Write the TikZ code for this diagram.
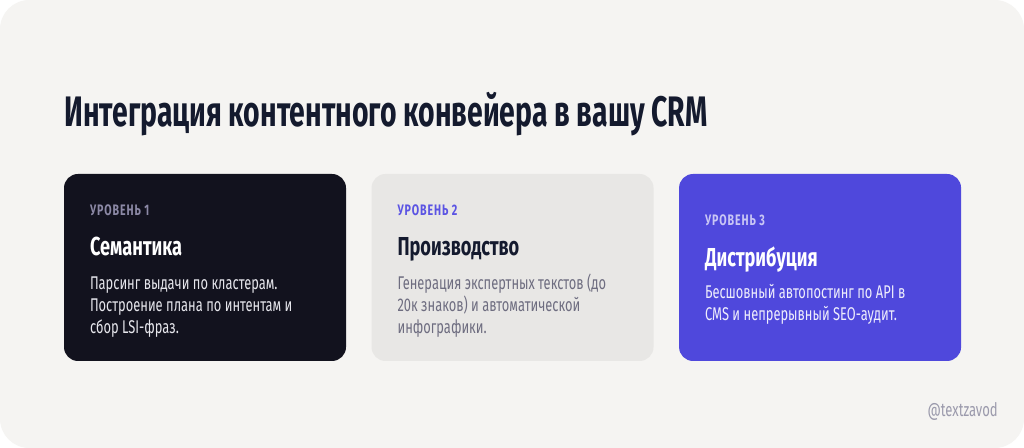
\documentclass[tikz,border=0pt]{standalone}
\usepackage{fontspec}
\setmainfont{Fira Sans}[FakeStretch=0.7]
\newfontfamily\levelfont{Fira Sans}[FakeStretch=0.7, LetterSpace=6]
\newfontfamily\titlefont{Fira Sans}[FakeStretch=0.665]
\usetikzlibrary{positioning}

\definecolor{bgpaper}{HTML}{F5F4F2}
\definecolor{inkdark}{HTML}{141A2E}
\definecolor{cardnight}{HTML}{12121E}
\definecolor{cardstone}{HTML}{E8E7E5}
\definecolor{cardindigo}{HTML}{4F48DC}
\definecolor{levelnight}{HTML}{8C89A6}
\definecolor{levelstone}{HTML}{5B54E3}
\definecolor{levelindigo}{HTML}{C9C6F5}
\definecolor{bodynight}{HTML}{E6E6EC}
\definecolor{bodystone}{HTML}{6E6D80}
\definecolor{bodyindigo}{HTML}{EEEDFC}
\definecolor{handlegrey}{HTML}{9B9AAC}

\tikzset{
  card/.style={rectangle, rounded corners=10.5pt, minimum width=211.5pt, minimum height=140.25pt, inner sep=0pt},
  leveltext/.style={anchor=base west, inner sep=0pt, font=\levelfont\fontsize{11.4}{13.5}\selectfont\bfseries},
  headtext/.style={anchor=base west, inner sep=0pt, font=\fontsize{19.5}{23}\selectfont\bfseries},
  % base = baseline of the last line
  bodytext/.style={anchor=base west, inner sep=0pt, align=left, font=\fontsize{13.8}{16.5}\selectfont}
}

\begin{document}
\begin{tikzpicture}[x=0.75pt, y=0.75pt]
  \useasboundingbox (0,0) rectangle (1024,448);
  \fill[white] (0,0) rectangle (1024,448);
  \fill[bgpaper, rounded corners=22pt] (0,0) rectangle (1024,448);

  \node[anchor=base west, inner sep=0pt, text=inkdark, font=\titlefont\fontsize{32}{38}\selectfont\bfseries] (title) at (64,321) {Интеграция контентного конвейера в вашу CRM};

  % three levels
  \node[card, fill=cardnight] (semantics) at (205,180.5) {};
  \node[card, fill=cardstone, right=18.75pt of semantics] (production) {};
  \node[card, fill=cardindigo, right=18.75pt of production] (distribution) {};

  \node[leveltext, text=levelnight] (semlevel) at ([shift={(26,-42)}]semantics.north west) {УРОВЕНЬ 1};
  \node[headtext, text=white] (semhead) at ([shift={(26,-82)}]semantics.north west) {Семантика};
  \node[bodytext, text=bodynight] (sembody) at ([shift={(26,-160)}]semantics.north west)
    {Парсинг выдачи по кластерам.\\Построение плана по интентам и\\сбор LSI-фраз.};

  \node[leveltext, text=levelstone] (prodlevel) at ([shift={(26,-42)}]production.north west) {УРОВЕНЬ 2};
  \node[headtext, text=inkdark] (prodhead) at ([shift={(26,-82)}]production.north west) {Производство};
  \node[bodytext, text=bodystone] (prodbody) at ([shift={(26,-160)}]production.north west)
    {Генерация экспертных текстов (до\\20к знаков) и автоматической\\инфографики.};

  \node[leveltext, text=levelindigo] (distlevel) at ([shift={(26,-52)}]distribution.north west) {УРОВЕНЬ 3};
  \node[headtext, text=white] (disthead) at ([shift={(26,-93)}]distribution.north west) {Дистрибуция};
  \node[bodytext, text=bodyindigo] (distbody) at ([shift={(26,-147)}]distribution.north west)
    {Бесшовный автопостинг по API в\\CMS и непрерывный SEO-аудит.};

  \node[anchor=base east, inner sep=0pt, text=handlegrey, font=\fontsize{14}{16}\selectfont] (handle) at (998,31) {@textzavod};
\end{tikzpicture}
\end{document}
